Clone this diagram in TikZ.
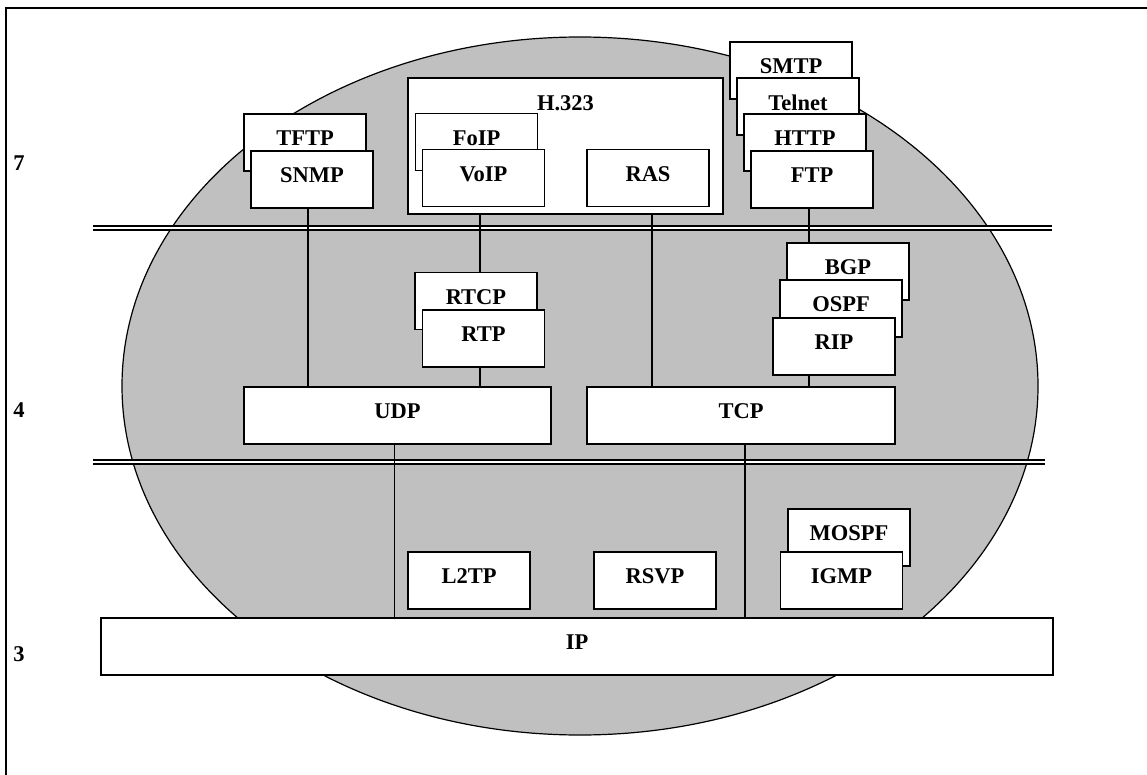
\documentclass[tikz,border=0pt]{standalone}
\usepackage{fontspec}
\setmainfont{Liberation Serif}
\definecolor{Shade}{HTML}{C0C0C0}

\begin{document}
\begin{tikzpicture}[x=1pt,y=-1pt,font=\bfseries\fontsize{22.5}{26}\selectfont,
    proto/.style={draw,fill=white,line width=1.5pt,minimum width=122pt,minimum height=57pt,
      inner sep=0pt,text depth=8pt},
    wide/.style={proto,minimum width=#1},
    sep/.style={double,double distance=2.3pt,line width=2pt},
    link/.style={line width=1.5pt}]
    \useasboundingbox (0,0) rectangle (1147,775);
    \draw[line width=2pt] (6,775)--(6,8)--(1147,8);
    \draw[fill=Shade,line width=1.2pt] (580,386) ellipse [x radius=458,y radius=349];
    % layer numbers
    \node (l7) at (19,163) {7};
    \node (l4) at (19,410) {4};
    \node (l3) at (19,654) {3};
    % layer borders
    \draw[sep] (93,228.3)--(1052,228.3);
    \draw[sep] (93,462.3)--(1045,462.3);
    % application layer
    \node[proto] (tftp) at (305,142.5) {TFTP};
    \node[proto] (snmp) at ([shift={(7,37)}]tftp) {SNMP};
    \node[wide=315pt,minimum height=136pt,
      label={[anchor=north,inner sep=0pt,yshift=-18pt]north:H.323}] (h323) at (565.5,146) {};
    \node[proto] (foip) at (476.5,142) {FoIP};
    \node[proto] (voip) at ([shift={(7,36)}]foip) {VoIP};
    \node[proto] (ras) at (648,178) {RAS};
    \node[proto] (smtp) at (791,70.5) {SMTP};
    \node[proto] (telnet) at ([shift={(7,36)}]smtp) {Telnet};
    \node[proto] (http) at ([shift={(7,36)}]telnet) {HTTP};
    \node[proto] (ftp) at ([shift={(7,37)}]http) {FTP};
    % transport layer
    \node[proto] (rtcp) at (476,301) {RTCP};
    \node[proto] (rtp) at ([shift={(7.5,37.5)}]rtcp) {RTP};
    \node[proto] (bgp) at (848,271.5) {BGP};
    \node[proto] (ospf) at ([shift={(-7,37)}]bgp) {OSPF};
    \node[proto] (rip) at ([shift={(-7,38)}]ospf) {RIP};
    \node[wide=307pt] (udp) at (397.5,415.5) {UDP};
    \node[wide=308pt] (tcp) at (741,415.5) {TCP};
    % network layer
    \node[proto] (l2tp) at (469,580.5) {L2TP};
    \node[proto] (rsvp) at (655,580.5) {RSVP};
    \node[proto] (mospf) at (849,537.5) {MOSPF};
    \node[proto] (igmp) at ([shift={(-7.5,43)}]mospf) {IGMP};
    \node[wide=952pt] (ip) at (577,646.5) {IP};
    % links
    \draw[link] ([xshift=-4pt]snmp.south)--([xshift=-4pt]snmp.south |- udp.north);
    \draw[link] (h323.south -| 480,0)--(rtcp.north -| 480,0);
    \draw[link] (rtp.south -| 480,0)--(udp.north -| 480,0);
    \draw[link] (h323.south -| 652,0)--(tcp.north -| 652,0);
    \draw[link] ([xshift=-3pt]ftp.south)--([xshift=-3pt]ftp.south |- bgp.north);
    \draw[link] ([xshift=-3pt]ftp.south |- rip.south)--([xshift=-3pt]ftp.south |- tcp.north);
    \draw[link] ([xshift=-3pt]udp.south)--([xshift=-3pt]udp.south |- ip.north);
    \draw[link] ([xshift=4pt]tcp.south)--([xshift=4pt]tcp.south |- ip.north);
\end{tikzpicture}
\end{document}
